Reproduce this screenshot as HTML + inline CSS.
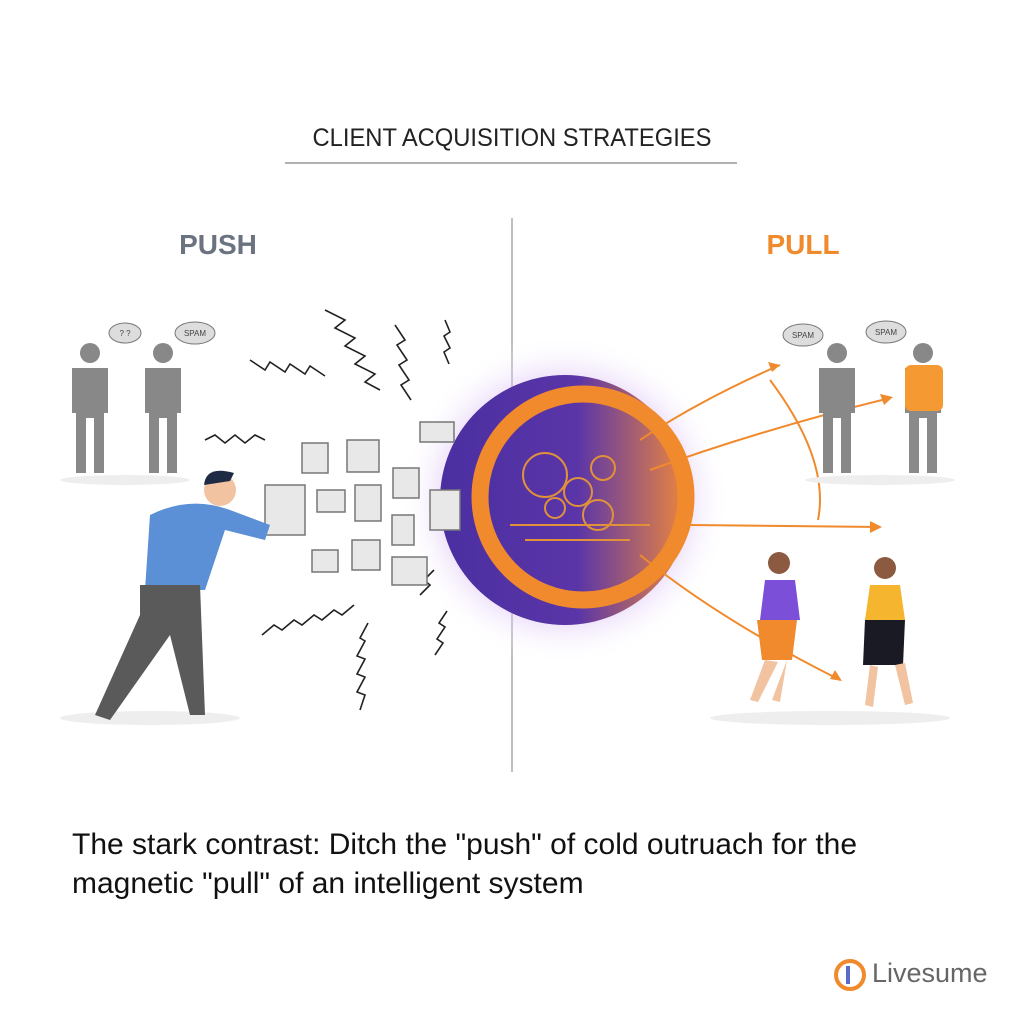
<!DOCTYPE html>
<html><head><meta charset="utf-8"><style>
body{margin:0;background:#fff;}
.w{position:relative;width:1024px;height:1024px;overflow:hidden;background:#fff;font-family:"Liberation Sans",sans-serif;}
.t{position:absolute;left:0;width:1024px;text-align:center;top:124px;font-size:25px;color:#222;transform:scaleX(0.95);}
.cap{position:absolute;left:72px;top:825px;font-size:30px;line-height:39px;color:#111;}
.logo{position:absolute;left:872px;top:958px;font-size:27px;color:#666;}
</style></head><body><div class="w">
<div class="t">CLIENT ACQUISITION STRATEGIES</div>
<svg width="1024" height="1024" style="position:absolute;left:0;top:0">
<defs>
<radialGradient id="glow" cx="0.5" cy="0.5" r="0.5"><stop offset="0.6" stop-color="#c79cf0" stop-opacity="0.7"/><stop offset="1" stop-color="#fff" stop-opacity="0"/></radialGradient>
<linearGradient id="ball" x1="0" y1="0" x2="1" y2="0"><stop offset="0" stop-color="#4a2fa0"/><stop offset="0.55" stop-color="#5a35a8"/><stop offset="1" stop-color="#f0883a"/></linearGradient>
</defs>
<line x1="285" y1="163" x2="737" y2="163" stroke="#999" stroke-width="1.5"/>
<line x1="512" y1="218" x2="512" y2="772" stroke="#aaa" stroke-width="1.5"/>
<text x="218" y="254" text-anchor="middle" font-size="28" font-weight="bold" fill="#6b7280" font-family="Liberation Sans">PUSH</text>
<text x="803" y="254" text-anchor="middle" font-size="28" font-weight="bold" fill="#f08a2c" font-family="Liberation Sans">PULL</text>
<circle cx="565" cy="500" r="165" fill="url(#glow)"/>
<circle cx="565" cy="500" r="125" fill="url(#ball)"/>
<circle cx="583" cy="497" r="103" fill="none" stroke="#f08a2c" stroke-width="17"/>
<g fill="none" stroke="#e0913a" stroke-width="2">
<circle cx="545" cy="475" r="22"/><circle cx="578" cy="492" r="14"/><circle cx="603" cy="468" r="12"/><circle cx="598" cy="515" r="15"/><circle cx="555" cy="508" r="10"/>
<line x1="510" y1="525" x2="650" y2="525"/><line x1="525" y1="540" x2="630" y2="540"/>
</g>
<g stroke="#f08a2c" stroke-width="2" fill="none">
<path d="M640 440 Q700 400 780 365"/><path d="M650 470 Q760 430 890 398"/><path d="M690 525 L880 527"/><path d="M640 555 Q720 620 840 680"/><path d="M770 380 Q830 460 818 520"/>
</g>
<g fill="#f08a2c"><polygon points="780,365 768,362 772,372"/><polygon points="893,397 880,394 884,405"/><polygon points="882,527 870,521 870,533"/><polygon points="842,681 830,679 835,670"/></g>
<g stroke="#222" stroke-width="1.6" fill="none">
<path d="M325 310 l20 10 -10 8 20 10 -10 8 20 10 -10 8 20 10 -10 8 15 8"/>
<path d="M250 360 l15 10 5 -8 15 10 5 -8 15 10 5 -8 15 10"/>
<path d="M395 325 l10 15 -8 5 10 15 -8 5 10 15 -8 5 10 15"/>
<path d="M445 320 l5 12 -6 4 6 12 -6 4 5 12"/>
<path d="M205 440 l10 -5 10 8 10 -8 10 8 10 -8 10 5"/>
<path d="M262 635 l12 -10 8 5 12 -10 8 5 12 -10 8 5 12 -10 8 5 12 -10"/>
<path d="M360 710 l5 -15 -8 -3 8 -15 -8 -3 8 -15 -8 -3 8 -15 -5 -3 8 -15"/>
<path d="M420 595 l10 -10 -6 -5 10 -10"/><path d="M435 655 l8 -12 -6 -4 8 -12 -6 -4 8 -12"/>
</g>
<g fill="#e8e8e8" stroke="#777" stroke-width="1.5">
<rect x="265" y="485" width="40" height="50"/><rect x="302" y="443" width="26" height="30"/><rect x="347" y="440" width="32" height="32"/><rect x="317" y="490" width="28" height="22"/><rect x="355" y="485" width="26" height="36"/><rect x="393" y="468" width="26" height="30"/><rect x="392" y="515" width="22" height="30"/><rect x="352" y="540" width="28" height="30"/><rect x="392" y="557" width="35" height="28"/><rect x="430" y="490" width="30" height="40"/><rect x="420" y="422" width="34" height="20"/><rect x="312" y="550" width="26" height="22"/>
</g>
<g fill="#888">
<circle cx="90" cy="353" r="10"/><path d="M72 368 h36 v45 h-4 v60 h-10 v-55 h-8 v55 h-10 v-60 h-4z"/>
<circle cx="163" cy="353" r="10"/><path d="M145 368 h36 v45 h-4 v60 h-10 v-55 h-8 v55 h-10 v-60 h-4z"/>
<circle cx="837" cy="353" r="10"/><path d="M819 368 h36 v45 h-4 v60 h-10 v-55 h-8 v55 h-10 v-60 h-4z"/>
<circle cx="923" cy="353" r="10"/><path d="M905 368 h0 v45 h4 v60 h10 v-55 h8 v55 h10 v-60 h4 v-45z" fill="#8a8a8a"/>
<rect x="905" y="365" width="38" height="46" rx="6" fill="#f59a32"/>
<ellipse cx="125" cy="480" rx="65" ry="5" fill="#eee"/><ellipse cx="880" cy="480" rx="75" ry="5" fill="#eee"/>
<ellipse cx="150" cy="718" rx="90" ry="7" fill="#eee"/><ellipse cx="830" cy="718" rx="120" ry="7" fill="#eee"/>
</g>
<g fill="#ddd" stroke="#777">
<ellipse cx="125" cy="333" rx="16" ry="10"/><ellipse cx="195" cy="333" rx="20" ry="11"/><ellipse cx="803" cy="335" rx="20" ry="11"/><ellipse cx="886" cy="332" rx="20" ry="11"/>
</g>
<g font-size="8" fill="#444" font-family="Liberation Sans" text-anchor="middle"><text x="125" y="336">? ?</text><text x="195" y="336">SPAM</text><text x="803" y="338">SPAM</text><text x="886" y="335">SPAM</text></g>
<circle cx="220" cy="490" r="16" fill="#f1c3a0"/><path d="M204 485 q2 -20 30 -12 l-4 8z" fill="#1f2a44"/>
<path d="M150 515 q40 -20 80 -5 l40 15 -5 15 -40 -10 -20 60 -60 0z" fill="#5b8fd6"/>
<path d="M140 585 h60 l5 130 -15 0 -20 -80 -60 85 -15 -5 45 -100z" fill="#5a5a5a"/>
<circle cx="779" cy="563" r="11" fill="#8b5a40"/><path d="M765 580 h30 l5 40 h-40z" fill="#7b4fd8"/><path d="M757 620 h40 l-5 40 h-30z" fill="#f08a2c"/><path d="M765 660 l-15 40 8 2 20 -40z M787 660 l-15 40 8 2z" fill="#f1c3a0"/>
<circle cx="885" cy="568" r="11" fill="#8b5a40"/><path d="M870 585 h30 l5 35 h-40z" fill="#f6b52e"/><path d="M865 620 h40 l-2 45 h-40z" fill="#1a1a24"/><path d="M870 665 l-5 40 8 2 5-40z M895 665 l10 40 8 -2 -8 -40z" fill="#f1c3a0"/>
<circle cx="850" cy="975" r="14" fill="none" stroke="#f08a2c" stroke-width="4"/><rect x="846" y="966" width="4" height="18" fill="#5a6cc8"/>
</svg>
<div class="cap">The stark contrast: Ditch the "push" of cold outruach for the<br>magnetic "pull" of an intelligent system</div>
<div class="logo">Livesume</div>
</div></body></html>
